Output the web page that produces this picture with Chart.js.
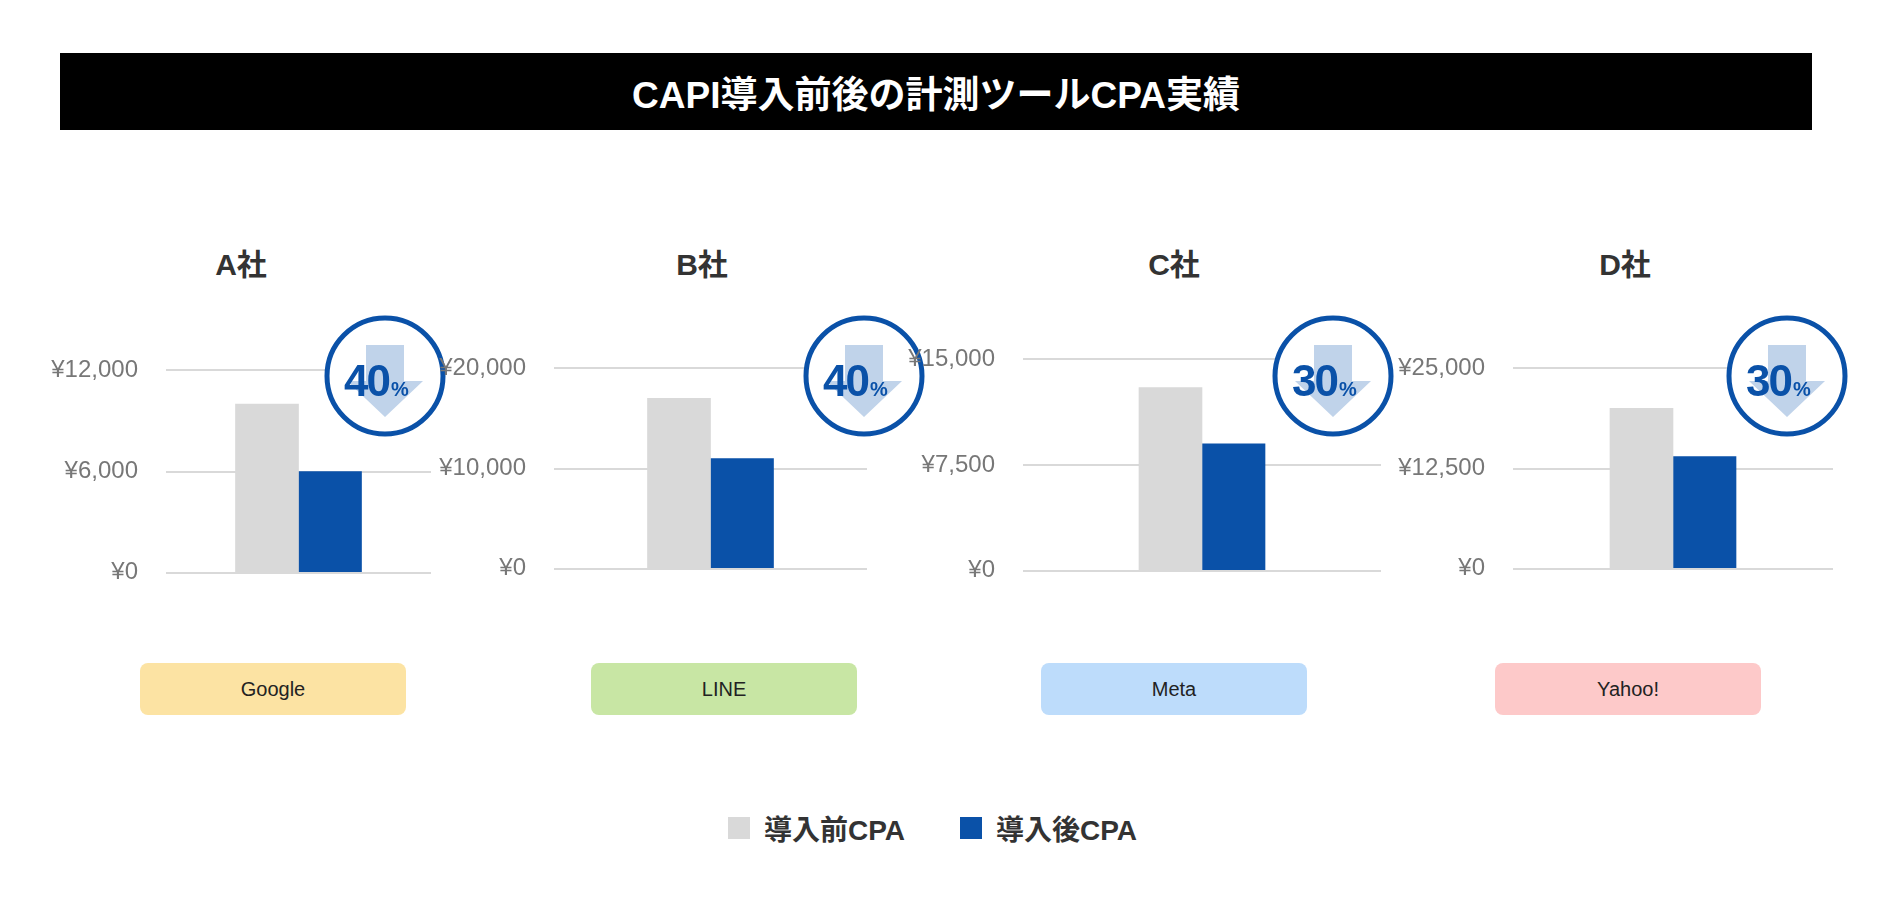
<!DOCTYPE html>
<html><head><meta charset="utf-8">
<script src="https://cdn.jsdelivr.net/npm/chart.js@4"></script>
<style>
body{margin:0;width:1888px;height:911px;background:#fff;position:relative;font-family:"Liberation Sans","Noto Sans CJK JP",sans-serif;overflow:hidden}
.abs{position:absolute}
#title{left:60px;top:53px;width:1752px;height:77px;background:#000;color:#fff;font-weight:bold;font-size:37px;display:flex;align-items:center;justify-content:center}
.co{font-size:30px;font-weight:bold;color:#333;width:200px;text-align:center;top:240px}
.pill{top:663px;height:52px;border-radius:8px;display:flex;align-items:center;justify-content:center;font-size:20px;color:#222;width:266px}
.badge{width:124px;height:124px}
.leg{top:808px;font-size:28px;font-weight:bold;color:#333;display:flex;align-items:center}
.leg span{display:inline-block;width:22px;height:22px;margin-right:14px}
</style></head><body>
<div id="title" class="abs">CAPI導入前後の計測ツールCPA実績</div>
<div id="root"></div>
<div class="abs leg" style="left:728px"><span style="background:#d9d9d9"></span>導入前CPA</div>
<div class="abs leg" style="left:960px"><span style="background:#0a51a8"></span>導入後CPA</div>
<script>
// data
const companies = ['A社', 'B社', 'C社', 'D社'];
const tools = ['Google', 'LINE', 'Meta', 'Yahoo!'];
const beforeCPA = [10000, 17000, 13000, 20000];
const afterCPA = [6000, 11000, 9000, 14000];
const axisMax = [12000, 20000, 15000, 25000];
const reduction = ['40', '40', '30', '30'];

// layout per panel
const areas = [
    { l: 166, r: 431, t: 341, b: 602, cx: 385, tc: 241, pill: 140, pillBg: '#fce3a3' },
    { l: 554, r: 867, t: 339, b: 598, cx: 864, tc: 702, pill: 591, pillBg: '#c8e6a4' },
    { l: 1023, r: 1381, t: 330, b: 600, cx: 1333, tc: 1174, pill: 1041, pillBg: '#bddcfb' },
    { l: 1513, r: 1833, t: 339, b: 598, cx: 1787, tc: 1625, pill: 1495, pillBg: '#fdc9c9' }
];
const AXW = 130, PAD = 13;
const root = document.getElementById('root');

companies.forEach((name, i) => {
    const a = areas[i];
    const h = document.createElement('div');
    h.className = 'abs co';
    h.style.left = (a.tc - 100) + 'px';
    h.textContent = name;
    root.appendChild(h);

    const p = document.createElement('div');
    p.className = 'abs pill';
    p.style.left = a.pill + 'px';
    p.style.background = a.pillBg;
    p.textContent = tools[i];
    root.appendChild(p);

    const wrap = document.createElement('div');
    wrap.className = 'abs';
    wrap.style.left = (a.l - AXW) + 'px';
    wrap.style.top = (a.t - PAD) + 'px';
    wrap.style.width = (a.r - a.l + AXW) + 'px';
    wrap.style.height = (a.b - a.t + PAD * 2) + 'px';
    const cv = document.createElement('canvas');
    wrap.appendChild(cv);
    root.appendChild(wrap);

    const w = a.r - a.l;
    new Chart(cv, {
        type: 'bar',
        data: {
            labels: [name],
            datasets: [
                { label: '導入前CPA', data: [beforeCPA[i]], backgroundColor: '#d9d9d9' },
                { label: '導入後CPA', data: [afterCPA[i]], backgroundColor: '#0a51a8' }
            ]
        },
        options: {
            responsive: true,
            maintainAspectRatio: false,
            animation: false,
            layout: { padding: 0 },
            datasets: { bar: { categoryPercentage: 166 / w, barThickness: 63 } },
            plugins: { legend: { display: false }, tooltip: { enabled: false } },
            scales: {
                x: { display: false, grid: { display: false } },
                y: {
                    min: 0, max: axisMax[i],
                    ticks: {
                        stepSize: axisMax[i] / 2,
                        color: '#777',
                        padding: 28,
                        font: { size: 24, family: 'Liberation Sans' },
                        callback: (v) => '¥' + v.toLocaleString('en-US')
                    },
                    grid: { color: '#d9d9d9', lineWidth: 2, drawTicks: false },
                    border: { display: false },
                    afterFit: (s) => { s.width = AXW; }
                }
            }
        }
    });

    // reduction badge
    const b = document.createElement('div');
    b.className = 'abs badge';
    b.style.left = (a.cx - 62) + 'px';
    b.style.top = (376 - 62) + 'px';
    b.innerHTML = `<svg width="124" height="124" viewBox="-62 -62 124 124">
      <circle r="58" fill="#fff" stroke="#0a51a8" stroke-width="5"/>
      <polygon points="-19,-31 19,-31 19,5 38,5 0,41 -38,5 -19,5" fill="#c0d3ea"/>
      <text x="4" y="20" text-anchor="end" font-family="Liberation Sans" font-weight="bold" font-size="44" letter-spacing="-2" fill="#0a51a8">${reduction[i]}</text>
      <text x="6" y="20" font-family="Liberation Sans" font-weight="bold" font-size="20" fill="#0a51a8">%</text>
    </svg>`;
    root.appendChild(b);
});
</script>
</body></html>
